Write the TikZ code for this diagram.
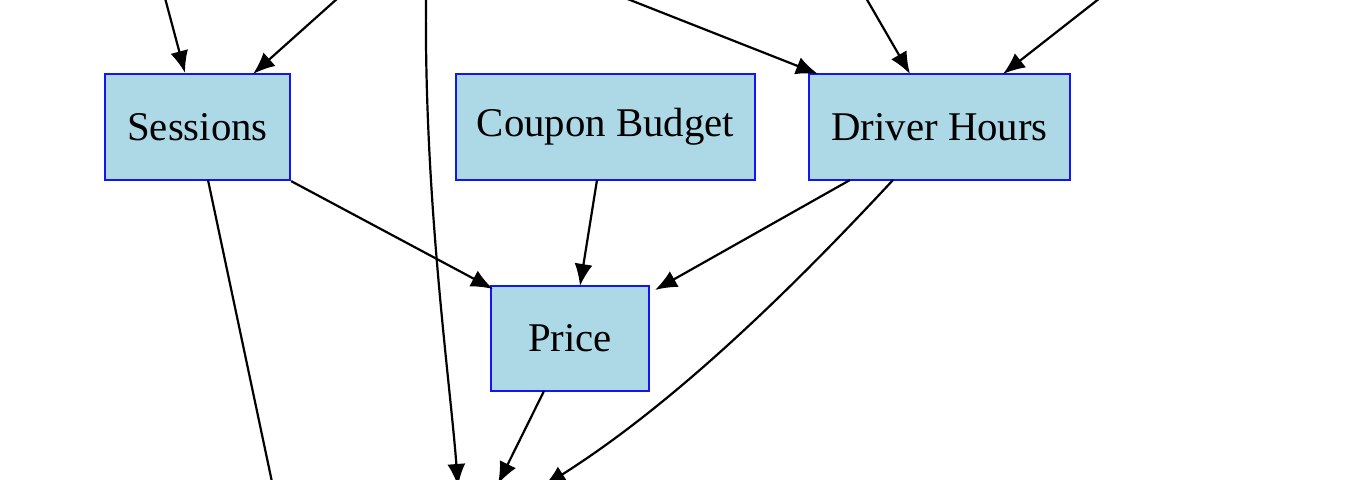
\documentclass[tikz,border=0pt]{standalone}
\usepackage{fontspec}
\setmainfont{Liberation Serif}
\usetikzlibrary{arrows.meta}
\definecolor{boxfill}{RGB}{173,216,230}
\tikzset{
  box/.style={draw={rgb,255:red,20;green,20;blue,245}, line width=1.1pt, fill=boxfill,
    inner sep=0pt, font=\fontsize{20.4}{24}\selectfont},
  edge/.style={line width=1.1pt, -{Latex[length=11pt,width=9pt]}},
  plain/.style={line width=1.1pt}
}
\begin{document}
\begin{tikzpicture}[x=0.5pt,y=0.5pt,yscale=-1]
\useasboundingbox (0,0) rectangle (1368,480);

% nodes
\node[box, minimum width=92.5pt, minimum height=53pt] (ses) at (197.5,127) {Sessions};
\node[box, minimum width=149.5pt, minimum height=53pt] (cb) at (605.5,127) {Coupon Budget};
\node[box, minimum width=130.5pt, minimum height=53pt] (dh) at (939.5,127) {Driver Hours};
\node[box, minimum width=79pt, minimum height=52.5pt] (pr) at (570,338.5) {Price};

% loose ends outside the crop
\coordinate (t1) at (165,-2);
\coordinate (t2) at (338,-2);
\coordinate (t3) at (426,-2);
\coordinate (t4) at (625,-2);
\coordinate (t5) at (866,-2);
\coordinate (t6) at (1100,-2);
\coordinate (b1) at (272,482);
\coordinate (b2) at (458,486);
\coordinate (b3) at (498,484);
\coordinate (b4) at (544,486);

% edges
\draw[edge] (t1) -- (ses.north -| 185,0);
\draw[edge] (t2) -- (253,74);
\draw[edge] (t3) .. controls (424,200) and (450,380) .. (b2);
\draw[edge] (t4) -- (818,74);
\draw[edge] (t5) -- (910,74);
\draw[edge] (t6) -- (1003,74);
\draw[edge] (ses.south east) -- (493,289);
\draw[edge] (597,180) -- (580,286);
\draw[edge] (850,180) -- (655,290);
\draw[edge] (893,180) .. controls (800,280) and (680,400) .. (b4);
\draw[plain] (208,180) -- (b1);
\draw[edge] (544,391) -- (b3);
\end{tikzpicture}
\end{document}
